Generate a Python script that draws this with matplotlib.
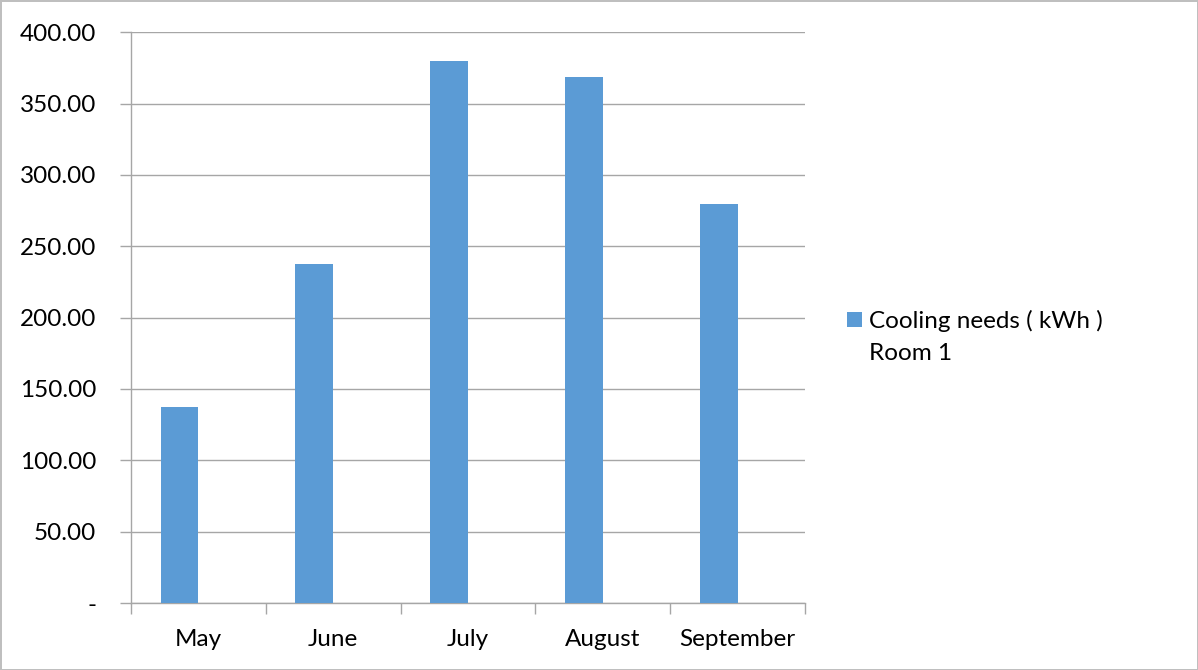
import numpy as np
import matplotlib
matplotlib.use("Agg")
import matplotlib.pyplot as plt
from matplotlib.ticker import FuncFormatter

# data
months = ["May", "June", "July", "August", "September"]
cooling = [137.4, 237.6, 379.8, 368.8, 279.6]
series_label = "Cooling needs ( kWh )\nRoom 1"

bar_color = "#5B9BD5"
grid_color = "#A6A6A6"

plt.rcParams["font.family"] = ["Lato", "DejaVu Sans"]

fig = plt.figure(figsize=(11.98, 6.70), dpi=100)
fig.patch.set_edgecolor("#BFBFBF")
fig.patch.set_linewidth(2)
ax = fig.add_axes([0.1093, 0.1, 0.5627, 0.852])

x = np.arange(len(months))
width = 0.28
# bars sit in the left half of each category (second, empty series slot)
ax.bar(x - width / 2, cooling, width=width, color=bar_color, label=series_label, zorder=3)

ax.set_xlim(-0.5, len(months) - 0.5)
ax.set_ylim(0, 400)
ax.set_yticks(np.arange(0, 401, 50))
ax.yaxis.set_major_formatter(FuncFormatter(lambda v, p: "-" if v == 0 else f"{v:.2f}"))
ax.grid(axis="y", color=grid_color, linewidth=1, zorder=0)

ax.set_xticks(np.arange(-0.5, len(months), 1.0))
ax.set_xticklabels([])
ax.set_xticks(x, minor=True)
ax.set_xticklabels(months, minor=True)
ax.tick_params(axis="x", which="major", length=8, width=1, color=grid_color, direction="out")
ax.tick_params(axis="x", which="minor", length=0, pad=19, labelsize=17.5)
ax.tick_params(axis="y", length=8, width=1, color=grid_color, pad=17, labelsize=17.5)

for s in ["top", "right"]:
    ax.spines[s].set_visible(False)
for s in ["left", "bottom"]:
    ax.spines[s].set_color(grid_color)
    ax.spines[s].set_linewidth(1)

leg = ax.legend(loc="center left", bbox_to_anchor=(0.706, 0.497), bbox_transform=fig.transFigure,
                frameon=False, fontsize=17.5, handlelength=0.6, handleheight=0.6,
                handletextpad=0.3, borderpad=0)
leg.get_texts()[0].set_linespacing(1.6)
# line the swatch up with the first text line, like the original
h = leg.legend_handles[0]
h.set_y(h.get_y() + 12.5)
fig.canvas.draw()
bb = leg.get_window_extent()
leg.set_bbox_to_anchor((847 / 1198 - 0.0 + (0.706 - bb.x0 / 1198), 0.497), transform=fig.transFigure)

fig.savefig("out.png", dpi=100, edgecolor=fig.get_edgecolor())
